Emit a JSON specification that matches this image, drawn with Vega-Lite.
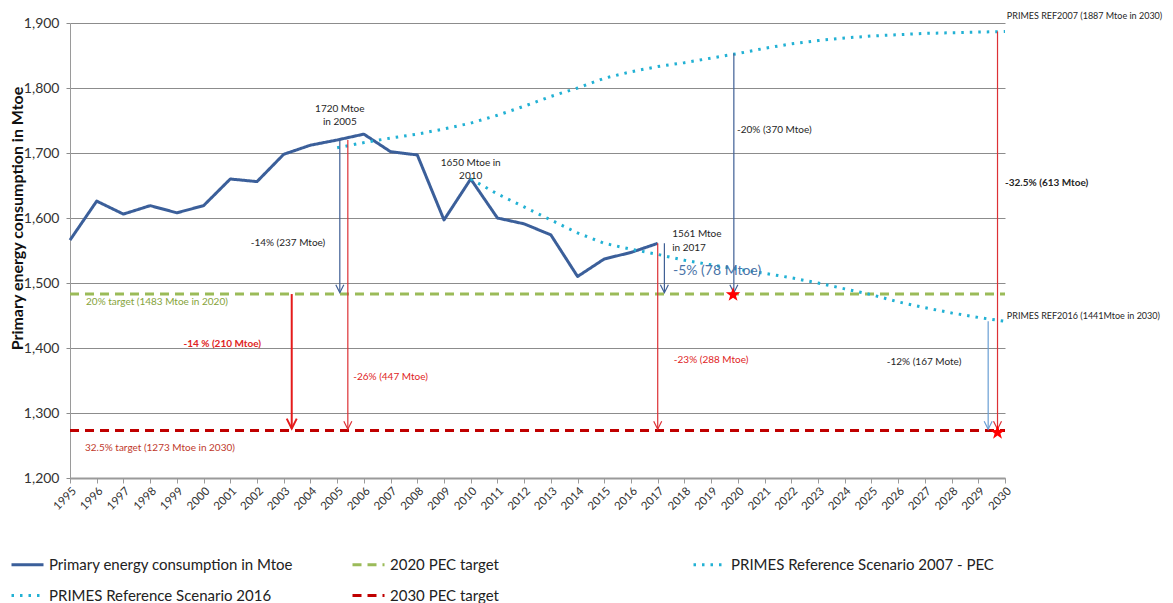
{
  "$schema": "https://vega.github.io/schema/vega-lite/v6.json",
  "width": 935,
  "height": 455,
  "autosize": {"type": "none"},
  "padding": {"left": 70, "top": 23, "right": 168, "bottom": 125},
  "background": "white",
  "config": {
    "font": "Lato",
    "view": {"stroke": null}
  },
  "datasets": {
    "series": [
      {"s": "Primary energy consumption in Mtoe", "x": 1995, "y": 1566},
      {"s": "Primary energy consumption in Mtoe", "x": 1996, "y": 1626},
      {"s": "Primary energy consumption in Mtoe", "x": 1997, "y": 1606},
      {"s": "Primary energy consumption in Mtoe", "x": 1998, "y": 1619},
      {"s": "Primary energy consumption in Mtoe", "x": 1999, "y": 1608},
      {"s": "Primary energy consumption in Mtoe", "x": 2000, "y": 1619},
      {"s": "Primary energy consumption in Mtoe", "x": 2001, "y": 1660},
      {"s": "Primary energy consumption in Mtoe", "x": 2002, "y": 1656},
      {"s": "Primary energy consumption in Mtoe", "x": 2003, "y": 1698},
      {"s": "Primary energy consumption in Mtoe", "x": 2004, "y": 1712},
      {"s": "Primary energy consumption in Mtoe", "x": 2005, "y": 1720},
      {"s": "Primary energy consumption in Mtoe", "x": 2006, "y": 1729},
      {"s": "Primary energy consumption in Mtoe", "x": 2007, "y": 1702},
      {"s": "Primary energy consumption in Mtoe", "x": 2008, "y": 1697},
      {"s": "Primary energy consumption in Mtoe", "x": 2009, "y": 1597},
      {"s": "Primary energy consumption in Mtoe", "x": 2010, "y": 1660},
      {"s": "Primary energy consumption in Mtoe", "x": 2011, "y": 1600},
      {"s": "Primary energy consumption in Mtoe", "x": 2012, "y": 1591},
      {"s": "Primary energy consumption in Mtoe", "x": 2013, "y": 1574},
      {"s": "Primary energy consumption in Mtoe", "x": 2014, "y": 1510},
      {"s": "Primary energy consumption in Mtoe", "x": 2015, "y": 1537},
      {"s": "Primary energy consumption in Mtoe", "x": 2016, "y": 1547},
      {"s": "Primary energy consumption in Mtoe", "x": 2017, "y": 1561},
      {"s": "2020 PEC target", "x": 1995, "y": 1483},
      {"s": "2020 PEC target", "x": 2030, "y": 1483},
      {"s": "PRIMES Reference Scenario 2007 - PEC", "x": 2005, "y": 1708},
      {"s": "PRIMES Reference Scenario 2007 - PEC", "x": 2006, "y": 1716},
      {"s": "PRIMES Reference Scenario 2007 - PEC", "x": 2007, "y": 1723},
      {"s": "PRIMES Reference Scenario 2007 - PEC", "x": 2008, "y": 1729},
      {"s": "PRIMES Reference Scenario 2007 - PEC", "x": 2009, "y": 1737},
      {"s": "PRIMES Reference Scenario 2007 - PEC", "x": 2010, "y": 1746},
      {"s": "PRIMES Reference Scenario 2007 - PEC", "x": 2011, "y": 1758},
      {"s": "PRIMES Reference Scenario 2007 - PEC", "x": 2012, "y": 1772},
      {"s": "PRIMES Reference Scenario 2007 - PEC", "x": 2013, "y": 1787},
      {"s": "PRIMES Reference Scenario 2007 - PEC", "x": 2014, "y": 1800},
      {"s": "PRIMES Reference Scenario 2007 - PEC", "x": 2015, "y": 1815},
      {"s": "PRIMES Reference Scenario 2007 - PEC", "x": 2016, "y": 1825},
      {"s": "PRIMES Reference Scenario 2007 - PEC", "x": 2017, "y": 1833},
      {"s": "PRIMES Reference Scenario 2007 - PEC", "x": 2018, "y": 1839},
      {"s": "PRIMES Reference Scenario 2007 - PEC", "x": 2019, "y": 1846},
      {"s": "PRIMES Reference Scenario 2007 - PEC", "x": 2020, "y": 1853},
      {"s": "PRIMES Reference Scenario 2007 - PEC", "x": 2021, "y": 1861},
      {"s": "PRIMES Reference Scenario 2007 - PEC", "x": 2022, "y": 1868},
      {"s": "PRIMES Reference Scenario 2007 - PEC", "x": 2023, "y": 1873},
      {"s": "PRIMES Reference Scenario 2007 - PEC", "x": 2024, "y": 1877},
      {"s": "PRIMES Reference Scenario 2007 - PEC", "x": 2025, "y": 1880},
      {"s": "PRIMES Reference Scenario 2007 - PEC", "x": 2026, "y": 1882},
      {"s": "PRIMES Reference Scenario 2007 - PEC", "x": 2027, "y": 1884},
      {"s": "PRIMES Reference Scenario 2007 - PEC", "x": 2028, "y": 1885},
      {"s": "PRIMES Reference Scenario 2007 - PEC", "x": 2029, "y": 1886},
      {"s": "PRIMES Reference Scenario 2007 - PEC", "x": 2030, "y": 1887},
      {"s": "PRIMES Reference Scenario 2016", "x": 2010, "y": 1660},
      {"s": "PRIMES Reference Scenario 2016", "x": 2011, "y": 1637},
      {"s": "PRIMES Reference Scenario 2016", "x": 2012, "y": 1617},
      {"s": "PRIMES Reference Scenario 2016", "x": 2013, "y": 1597},
      {"s": "PRIMES Reference Scenario 2016", "x": 2014, "y": 1577},
      {"s": "PRIMES Reference Scenario 2016", "x": 2015, "y": 1561},
      {"s": "PRIMES Reference Scenario 2016", "x": 2016, "y": 1552},
      {"s": "PRIMES Reference Scenario 2016", "x": 2017, "y": 1544},
      {"s": "PRIMES Reference Scenario 2016", "x": 2018, "y": 1535},
      {"s": "PRIMES Reference Scenario 2016", "x": 2019, "y": 1528},
      {"s": "PRIMES Reference Scenario 2016", "x": 2020, "y": 1521},
      {"s": "PRIMES Reference Scenario 2016", "x": 2021, "y": 1515},
      {"s": "PRIMES Reference Scenario 2016", "x": 2022, "y": 1508},
      {"s": "PRIMES Reference Scenario 2016", "x": 2023, "y": 1500},
      {"s": "PRIMES Reference Scenario 2016", "x": 2024, "y": 1491},
      {"s": "PRIMES Reference Scenario 2016", "x": 2025, "y": 1482},
      {"s": "PRIMES Reference Scenario 2016", "x": 2026, "y": 1471},
      {"s": "PRIMES Reference Scenario 2016", "x": 2027, "y": 1462},
      {"s": "PRIMES Reference Scenario 2016", "x": 2028, "y": 1454},
      {"s": "PRIMES Reference Scenario 2016", "x": 2029, "y": 1447},
      {"s": "PRIMES Reference Scenario 2016", "x": 2030, "y": 1441},
      {"s": "2030 PEC target", "x": 1995, "y": 1273},
      {"s": "2030 PEC target", "x": 2030, "y": 1273}
    ],
    "arrNavy": [
      {"x": 2005.1, "y": 1720, "y2": 1485},
      {"x": 2019.85, "y": 1853, "y2": 1485},
      {"x": 2017.25, "y": 1561, "y2": 1485}
    ],
    "tipNavy": [
      {"x": 2005.1, "y": 1485},
      {"x": 2019.85, "y": 1485},
      {"x": 2017.25, "y": 1485}
    ],
    "arrLight": [{"x": 2029.37, "y": 1441, "y2": 1275}],
    "tipLight": [{"x": 2029.37, "y": 1275}],
    "arrRed": [
      {"x": 2005.4, "y": 1720, "y2": 1275},
      {"x": 2017.0, "y": 1561, "y2": 1275},
      {"x": 2029.72, "y": 1887, "y2": 1275}
    ],
    "tipRed": [
      {"x": 2005.4, "y": 1275},
      {"x": 2017.0, "y": 1275},
      {"x": 2029.72, "y": 1275}
    ],
    "arrRedBold": [{"x": 2003.3, "y": 1483, "y2": 1276}],
    "tipRedBold": [{"x": 2003.3, "y": 1276}],
    "stars": [
      {"x": 2019.82, "y": 1482},
      {"x": 2029.72, "y": 1270}
    ],
    "txtCenter": [
      {"x": 2005.1, "y": 1767, "t": "1720 Mtoe\nin 2005"},
      {"x": 2010.0, "y": 1685, "t": "1650 Mtoe in\n2010"},
      {"x": 2003.16, "y": 1561, "t": "-14% (237 Mtoe)"},
      {"x": 2026.97, "y": 1378, "t": "-12% (167 Mote)"}
    ],
    "txtLeft": [
      {"x": 2017.54, "y": 1575, "t": "1561 Mtoe\nin 2017"},
      {"x": 2019.97, "y": 1735, "t": "-20% (370 Mtoe)"}
    ],
    "txtSmallLeft": [
      {"x": 2030.07, "y": 1911, "t": "PRIMES REF2007 (1887 Mtoe in 2030)"},
      {"x": 2030.07, "y": 1449, "t": "PRIMES REF2016 (1441Mtoe in 2030)"}
    ],
    "txtBoldLeft": [
      {"x": 2030.0, "y": 1654, "t": "-32.5% (613 Mtoe)"}
    ],
    "txtRedCenter": [
      {"x": 2007.0, "y": 1355, "t": "-26% (447 Mtoe)"},
      {"x": 2019.0, "y": 1381, "t": "-23% (288 Mtoe)"}
    ],
    "txtRedBold": [
      {"x": 2000.7, "y": 1406, "t": "-14 % (210 Mtoe)"}
    ],
    "txtRedTarget": [
      {"x": 1995.56, "y": 1246, "t": "32.5% target  (1273 Mtoe in 2030)"}
    ],
    "txtGreen": [
      {"x": 1995.6, "y": 1471, "t": "20% target  (1483 Mtoe in 2020)"}
    ],
    "txtBlue": [
      {"x": 2017.57, "y": 1518, "t": "-5% (78 Mtoe)"}
    ]
  },
  "encoding": {
    "x": {
      "field": "x",
      "type": "quantitative",
      "scale": {"domain": [1995, 2030], "nice": false, "zero": false},
      "axis": {
        "title": null,
        "values": [1995, 1996, 1997, 1998, 1999, 2000, 2001, 2002, 2003, 2004, 2005, 2006, 2007, 2008, 2009, 2010, 2011, 2012, 2013, 2014, 2015, 2016, 2017, 2018, 2019, 2020, 2021, 2022, 2023, 2024, 2025, 2026, 2027, 2028, 2029, 2030],
        "format": "d",
        "labelAngle": -45,
        "labelFontSize": 11.5,
        "labelColor": "#333333",
        "labelOverlap": false,
        "grid": false,
        "domainColor": "#9a9a9a",
        "domainWidth": 2,
        "tickColor": "#9a9a9a",
        "tickSize": 5
      }
    },
    "y": {
      "field": "y",
      "type": "quantitative",
      "scale": {"domain": [1200, 1900], "nice": false, "zero": false},
      "axis": {
        "title": "Primary energy consumption in Mtoe",
        "titleFontSize": 16,
        "titleFontWeight": "bold",
        "titleColor": "#111111",
        "titleX": -45,
        "titleY": 195,
        "values": [1200, 1300, 1400, 1500, 1600, 1700, 1800, 1900],
        "format": ",d",
        "labelFontSize": 14,
        "labelColor": "#333333",
        "labelPadding": 7,
        "grid": true,
        "gridColor": "#8c8c8c",
        "domainColor": "#9a9a9a",
        "tickColor": "#8c8c8c",
        "tickSize": 4
      }
    }
  },
  "layer": [
    {
      "data": {"name": "series"},
      "mark": {"type": "line", "strokeWidth": 3, "strokeJoin": "round"},
      "encoding": {
        "color": {
          "field": "s",
          "type": "nominal",
          "scale": {
            "domain": ["Primary energy consumption in Mtoe", "2020 PEC target", "PRIMES Reference Scenario 2007 - PEC", "PRIMES Reference Scenario 2016", "2030 PEC target"],
            "range": ["#3b5f9a", "#9bbb59", "#22b1d4", "#22b1d4", "#c00000"]
          },
          "legend": {
            "title": null,
            "orient": "none",
            "direction": "horizontal",
            "legendX": -60,
            "legendY": 524,
            "columns": 3,
            "gridAlign": "all",
            "columnPadding": 34,
            "rowPadding": 5,
            "symbolType": "stroke",
            "symbolSize": 1024,
            "symbolStrokeWidth": 3,
            "labelFontSize": 15,
            "labelColor": "#222222",
            "labelOffset": 4,
            "labelLimit": 400
          }
        },
        "strokeDash": {
          "field": "s",
          "type": "nominal",
          "scale": {
            "domain": ["Primary energy consumption in Mtoe", "2020 PEC target", "PRIMES Reference Scenario 2007 - PEC", "PRIMES Reference Scenario 2016", "2030 PEC target"],
            "range": [[1, 0], [9, 6], [2.5, 6], [2.5, 6], [9, 6]]
          },
          "legend": {
            "title": null,
            "orient": "none",
            "direction": "horizontal",
            "legendX": -60,
            "legendY": 524,
            "columns": 3,
            "gridAlign": "all",
            "columnPadding": 34,
            "rowPadding": 5,
            "symbolType": "stroke",
            "symbolSize": 1024,
            "symbolStrokeWidth": 3,
            "labelFontSize": 15,
            "labelColor": "#222222",
            "labelOffset": 4,
            "labelLimit": 400
          }
        }
      }
    },
    {
      "data": {"name": "arrNavy"},
      "mark": {"type": "rule", "color": "#3f5f95", "strokeWidth": 1.2},
      "encoding": {"y2": {"field": "y2"}}
    },
    {
      "data": {"name": "tipNavy"},
      "mark": {"type": "point", "shape": "M-1,-2L0,0L1,-2", "filled": false, "stroke": "#3f5f95", "strokeWidth": 1.2, "size": 64, "opacity": 1}
    },
    {
      "data": {"name": "arrLight"},
      "mark": {"type": "rule", "color": "#6a9fd4", "strokeWidth": 1.2},
      "encoding": {"y2": {"field": "y2"}}
    },
    {
      "data": {"name": "tipLight"},
      "mark": {"type": "point", "shape": "M-1,-2L0,0L1,-2", "filled": false, "stroke": "#6a9fd4", "strokeWidth": 1.2, "size": 64, "opacity": 1}
    },
    {
      "data": {"name": "arrRed"},
      "mark": {"type": "rule", "color": "#dd3035", "strokeWidth": 1.2},
      "encoding": {"y2": {"field": "y2"}}
    },
    {
      "data": {"name": "tipRed"},
      "mark": {"type": "point", "shape": "M-1,-2L0,0L1,-2", "filled": false, "stroke": "#dd3035", "strokeWidth": 1.2, "size": 64, "opacity": 1}
    },
    {
      "data": {"name": "arrRedBold"},
      "mark": {"type": "rule", "color": "#e51b1b", "strokeWidth": 2},
      "encoding": {"y2": {"field": "y2"}}
    },
    {
      "data": {"name": "tipRedBold"},
      "mark": {"type": "point", "shape": "M-1,-2L0,0L1,-2", "filled": false, "stroke": "#e51b1b", "strokeWidth": 2, "size": 100, "opacity": 1}
    },
    {
      "data": {"name": "stars"},
      "mark": {"type": "point", "shape": "M0,-1L0.235,-0.324L0.951,-0.309L0.38,0.124L0.588,0.809L0,0.4L-0.588,0.809L-0.38,0.124L-0.951,-0.309L-0.235,-0.324Z", "filled": true, "fill": "#ff0000", "strokeWidth": 0, "size": 230, "opacity": 1}
    },
    {
      "data": {"name": "txtCenter"},
      "mark": {"type": "text", "align": "center", "baseline": "middle", "fontSize": 10, "color": "#262626", "lineBreak": "\n", "lineHeight": 13},
      "encoding": {"text": {"field": "t", "type": "nominal"}}
    },
    {
      "data": {"name": "txtLeft"},
      "mark": {"type": "text", "align": "left", "baseline": "middle", "fontSize": 10, "color": "#262626", "lineBreak": "\n", "lineHeight": 14},
      "encoding": {"text": {"field": "t", "type": "nominal"}}
    },
    {
      "data": {"name": "txtSmallLeft"},
      "mark": {"type": "text", "align": "left", "baseline": "middle", "fontSize": 9, "color": "#262626"},
      "encoding": {"text": {"field": "t", "type": "nominal"}}
    },
    {
      "data": {"name": "txtBoldLeft"},
      "mark": {"type": "text", "align": "left", "baseline": "middle", "fontSize": 10, "fontWeight": "bold", "color": "#262626"},
      "encoding": {"text": {"field": "t", "type": "nominal"}}
    },
    {
      "data": {"name": "txtRedCenter"},
      "mark": {"type": "text", "align": "center", "baseline": "middle", "fontSize": 10, "color": "#e02424"},
      "encoding": {"text": {"field": "t", "type": "nominal"}}
    },
    {
      "data": {"name": "txtRedBold"},
      "mark": {"type": "text", "align": "center", "baseline": "middle", "fontSize": 10, "fontWeight": "bold", "color": "#e02424"},
      "encoding": {"text": {"field": "t", "type": "nominal"}}
    },
    {
      "data": {"name": "txtRedTarget"},
      "mark": {"type": "text", "align": "left", "baseline": "middle", "fontSize": 10, "color": "#c0392b"},
      "encoding": {"text": {"field": "t", "type": "nominal"}}
    },
    {
      "data": {"name": "txtGreen"},
      "mark": {"type": "text", "align": "left", "baseline": "middle", "fontSize": 10, "color": "#86a33a"},
      "encoding": {"text": {"field": "t", "type": "nominal"}}
    },
    {
      "data": {"name": "txtBlue"},
      "mark": {"type": "text", "align": "left", "baseline": "middle", "fontSize": 14, "color": "#4a74a8"},
      "encoding": {"text": {"field": "t", "type": "nominal"}}
    }
  ]
}
